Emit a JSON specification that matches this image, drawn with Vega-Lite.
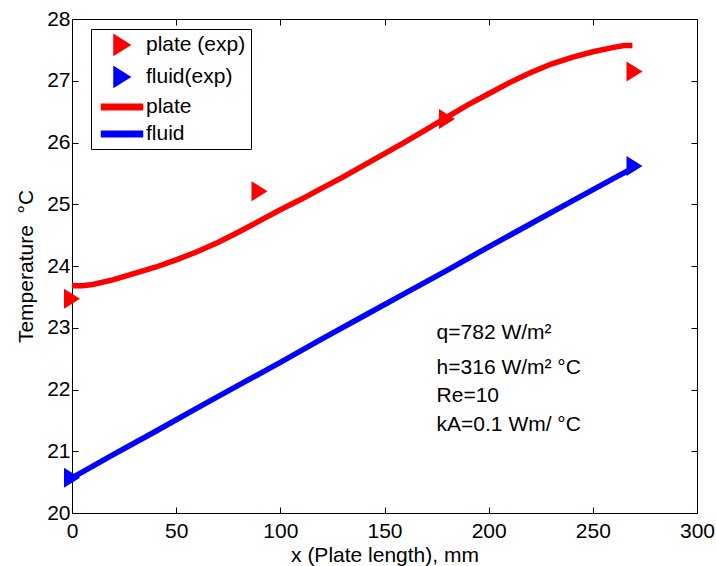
{
  "$schema": "https://vega.github.io/schema/vega-lite/v6.json",
  "width": 625,
  "height": 494,
  "autosize": "none",
  "padding": {"left": 72, "top": 19, "right": 19, "bottom": 53},
  "background": "white",
  "config": {
    "font": "Liberation Sans",
    "view": {"stroke": "black", "strokeWidth": 1},
    "axis": {
      "grid": false,
      "domainColor": "black",
      "domainWidth": 1,
      "tickColor": "black",
      "tickWidth": 1,
      "tickSize": -6,
      "labelColor": "black",
      "titleColor": "black",
      "labelFont": "Liberation Sans",
      "titleFont": "Liberation Sans",
      "labelFontSize": 21,
      "titleFontSize": 21,
      "titleFontWeight": "normal"
    }
  },
  "datasets": {
    "exp": [
      {"x": 0, "t": 23.47, "series": "plate (exp)"},
      {"x": 90, "t": 25.21, "series": "plate (exp)"},
      {"x": 180, "t": 26.38, "series": "plate (exp)"},
      {"x": 270, "t": 27.15, "series": "plate (exp)"},
      {"x": 0, "t": 20.57, "series": "fluid(exp)"},
      {"x": 270, "t": 25.62, "series": "fluid(exp)"}
    ],
    "model": [
      {"x": 0, "t": 23.68, "series": "plate"},
      {"x": 5, "t": 23.68, "series": "plate"},
      {"x": 10, "t": 23.7, "series": "plate"},
      {"x": 20, "t": 23.78, "series": "plate"},
      {"x": 30, "t": 23.88, "series": "plate"},
      {"x": 40, "t": 23.98, "series": "plate"},
      {"x": 50, "t": 24.1, "series": "plate"},
      {"x": 60, "t": 24.23, "series": "plate"},
      {"x": 70, "t": 24.38, "series": "plate"},
      {"x": 80, "t": 24.55, "series": "plate"},
      {"x": 90, "t": 24.73, "series": "plate"},
      {"x": 100, "t": 24.91, "series": "plate"},
      {"x": 110, "t": 25.08, "series": "plate"},
      {"x": 120, "t": 25.26, "series": "plate"},
      {"x": 130, "t": 25.44, "series": "plate"},
      {"x": 140, "t": 25.63, "series": "plate"},
      {"x": 150, "t": 25.82, "series": "plate"},
      {"x": 160, "t": 26.01, "series": "plate"},
      {"x": 170, "t": 26.21, "series": "plate"},
      {"x": 180, "t": 26.41, "series": "plate"},
      {"x": 190, "t": 26.61, "series": "plate"},
      {"x": 200, "t": 26.79, "series": "plate"},
      {"x": 210, "t": 26.97, "series": "plate"},
      {"x": 220, "t": 27.13, "series": "plate"},
      {"x": 230, "t": 27.27, "series": "plate"},
      {"x": 240, "t": 27.38, "series": "plate"},
      {"x": 250, "t": 27.47, "series": "plate"},
      {"x": 260, "t": 27.54, "series": "plate"},
      {"x": 265, "t": 27.57, "series": "plate"},
      {"x": 269, "t": 27.57, "series": "plate"},
      {"x": 0, "t": 20.57, "series": "fluid"},
      {"x": 20, "t": 20.95, "series": "fluid"},
      {"x": 40, "t": 21.32, "series": "fluid"},
      {"x": 60, "t": 21.7, "series": "fluid"},
      {"x": 80, "t": 22.07, "series": "fluid"},
      {"x": 100, "t": 22.44, "series": "fluid"},
      {"x": 120, "t": 22.82, "series": "fluid"},
      {"x": 140, "t": 23.19, "series": "fluid"},
      {"x": 160, "t": 23.56, "series": "fluid"},
      {"x": 180, "t": 23.93, "series": "fluid"},
      {"x": 200, "t": 24.31, "series": "fluid"},
      {"x": 220, "t": 24.68, "series": "fluid"},
      {"x": 240, "t": 25.05, "series": "fluid"},
      {"x": 260, "t": 25.42, "series": "fluid"},
      {"x": 270, "t": 25.6, "series": "fluid"}
    ],
    "notes": [
      {"x": 175, "t": 22.81, "label": "q=782 W/m²"},
      {"x": 175, "t": 22.25, "label": "h=316 W/m² °C"},
      {"x": 175, "t": 21.8, "label": "Re=10"},
      {"x": 175, "t": 21.33, "label": "kA=0.1 Wm/ °C"}
    ]
  },
  "layer": [
    {
      "data": {"name": "exp"},
      "mark": {"type": "point", "filled": true, "opacity": 1, "size": 400, "strokeWidth": 0},
      "encoding": {
        "x": {
          "field": "x", "type": "quantitative",
          "scale": {"domain": [0, 300], "nice": false, "zero": false},
          "axis": {"orient": "top", "labels": false, "title": null, "values": [0, 50, 100, 150, 200, 250, 300], "domain": false}
        },
        "y": {
          "field": "t", "type": "quantitative",
          "scale": {"domain": [20, 28], "nice": false, "zero": false},
          "axis": {"orient": "right", "labels": false, "title": null, "values": [20, 21, 22, 23, 24, 25, 26, 27, 28], "domain": false}
        },
        "color": {
          "field": "series", "type": "nominal",
          "scale": {"domain": ["plate (exp)", "fluid(exp)", "plate", "fluid"], "range": ["#ff0000", "#0000ff", "#ff0000", "#0000ff"]},
          "legend": {
            "title": null,
            "orient": "none",
            "legendX": 19,
            "legendY": 10,
            "padding": 5,
            "fillColor": "white",
            "strokeColor": "black",
            "symbolSize": 400,
            "symbolOffset": 15,
            "labelOffset": 13,
            "rowPadding": 6,
            "labelFont": "Liberation Sans",
            "labelFontSize": 21,
            "labelColor": "black",
            "labelLimit": 300,
            "labelExpr": "datum.label + '\u00a0'",
            "encode": {
              "symbols": {
                "update": {
                  "fill": {"scale": "color", "field": "value"},
                  "strokeWidth": {"value": 0},
                  "opacity": {"value": 1},
                  "size": {"value": 400}
                }
              }
            }
          }
        },
        "shape": {
          "field": "series", "type": "nominal",
          "scale": {"domain": ["plate (exp)", "fluid(exp)", "plate", "fluid"], "range": ["M-0.8,-1L0.8,0L-0.8,1Z", "M-0.8,-1L0.8,0L-0.8,1Z", "M-2.05,-0.28L2.05,-0.28L2.05,0.28L-2.05,0.28Z", "M-2.05,-0.28L2.05,-0.28L2.05,0.28L-2.05,0.28Z"]},
          "legend": {
            "title": null,
            "orient": "none",
            "legendX": 19,
            "legendY": 10,
            "padding": 5,
            "fillColor": "white",
            "strokeColor": "black",
            "symbolSize": 400,
            "symbolOffset": 15,
            "labelOffset": 13,
            "rowPadding": 6,
            "labelFont": "Liberation Sans",
            "labelFontSize": 21,
            "labelColor": "black",
            "labelLimit": 300,
            "labelExpr": "datum.label + '\u00a0'"
          }
        }
      }
    },
    {
      "data": {"name": "model"},
      "mark": {"type": "line", "strokeWidth": 5.5},
      "encoding": {
        "x": {
          "field": "x", "type": "quantitative",
          "scale": {"domain": [0, 300], "nice": false, "zero": false},
          "axis": {"orient": "bottom", "title": "x (Plate length), mm", "values": [0, 50, 100, 150, 200, 250, 300], "labelPadding": 13, "titlePadding": 3, "labelFlush": false}
        },
        "y": {
          "field": "t", "type": "quantitative",
          "scale": {"domain": [20, 28], "nice": false, "zero": false},
          "axis": {"orient": "left", "title": "Temperature\u00a0 °C", "values": [20, 21, 22, 23, 24, 25, 26, 27, 28], "labelPadding": 8, "titlePadding": 10, "labelFlush": false}
        },
        "color": {
          "field": "series", "type": "nominal",
          "scale": {"domain": ["plate (exp)", "fluid(exp)", "plate", "fluid"], "range": ["#ff0000", "#0000ff", "#ff0000", "#0000ff"]}
        }
      }
    },
    {
      "data": {"name": "notes"},
      "mark": {"type": "text", "align": "left", "baseline": "alphabetic", "fontSize": 21, "font": "Liberation Sans", "color": "black"},
      "encoding": {
        "x": {"field": "x", "type": "quantitative", "axis": null},
        "y": {"field": "t", "type": "quantitative", "axis": null},
        "text": {"field": "label"}
      }
    }
  ],
  "resolve": {"axis": {"x": "independent", "y": "independent"}}
}
